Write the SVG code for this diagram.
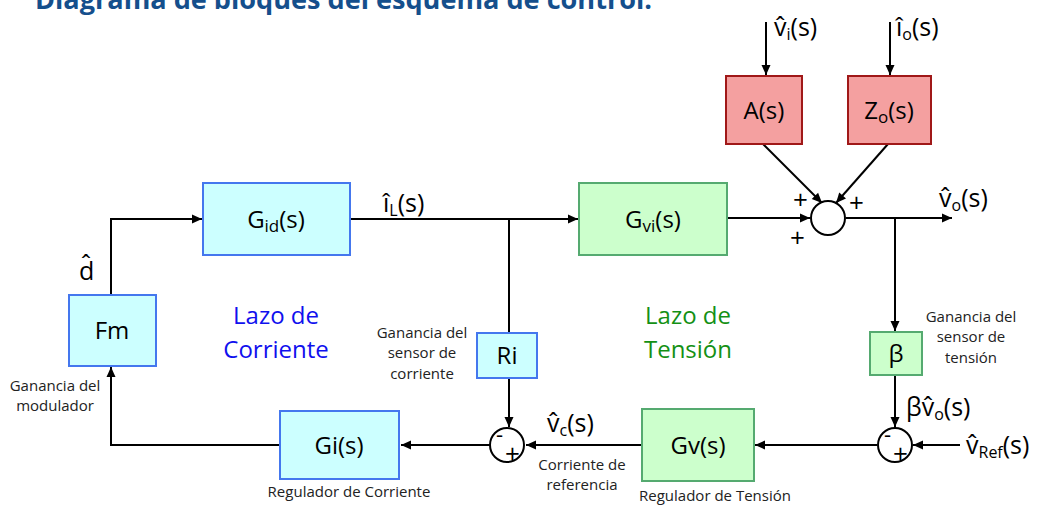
<svg xmlns="http://www.w3.org/2000/svg" width="1039" height="506" viewBox="0 0 1039 506">
<style>
.t{font-family:"Open Sans","Liberation Sans",sans-serif;fill:#000}
.box{font-size:24px}
.small{font-size:15px;fill:#222}
.lbl{font-size:25px}
.cb{fill:#ccffff;stroke:#4477ee;stroke-width:2}
.gb{fill:#ccffcc;stroke:#55aa70;stroke-width:2}
.rb{fill:#f4a0a0;stroke:#a01818;stroke-width:2}
.ln{fill:none;stroke:#000;stroke-width:2}
.sum{fill:#fff;stroke:#000;stroke-width:2}
.pm{font-size:26px}
</style>
<defs>
<marker id="ar" markerUnits="userSpaceOnUse" markerWidth="12" markerHeight="12" viewBox="0 0 12 12" refX="11" refY="6" orient="auto">
<path d="M1,1.5 L11,6 L1,10.5 Z" fill="#000"/>
</marker>
</defs>
<rect width="1039" height="506" fill="#fff"/>
<text x="35" y="9" class="t" font-size="26" font-weight="bold" style="fill:#154f8c" textLength="617" lengthAdjust="spacingAndGlyphs">Diagrama de bloques del esquema de control.</text>

<g id="connectors">
<path class="ln" d="M111,294 V219 H202" marker-end="url(#ar)"/>
<path class="ln" d="M350,219 H578" marker-end="url(#ar)"/>
<path class="ln" d="M509,219 V333"/>
<path class="ln" d="M509,378 V427" marker-end="url(#ar)"/>
<path class="ln" d="M727,218 H810" marker-end="url(#ar)"/>
<path class="ln" d="M766,22 V75" marker-end="url(#ar)"/>
<path class="ln" d="M890,22 V75" marker-end="url(#ar)"/>
<path class="ln" d="M763,144 L822,203" marker-end="url(#ar)"/>
<path class="ln" d="M888,144 L836,203" marker-end="url(#ar)"/>
<path class="ln" d="M846,218 H952" marker-end="url(#ar)"/>
<path class="ln" d="M895,218 V331" marker-end="url(#ar)"/>
<path class="ln" d="M895,374 V427" marker-end="url(#ar)"/>
<path class="ln" d="M960,445 H913" marker-end="url(#ar)"/>
<path class="ln" d="M877,445 H755" marker-end="url(#ar)"/>
<path class="ln" d="M642,445 H526" marker-end="url(#ar)"/>
<path class="ln" d="M490,445 H401" marker-end="url(#ar)"/>
<path class="ln" d="M280,445 H111 V367" marker-end="url(#ar)"/>
</g>

<g id="Gid"><rect class="cb" x="203" y="183" width="147" height="72"/>
<text class="t box" x="276" y="228" text-anchor="middle">G<tspan font-size="17" dy="4">id</tspan><tspan dy="-4">(s)</tspan></text></g>

<g id="Gvi"><rect class="gb" x="579" y="183" width="148" height="72"/>
<text class="t box" x="653" y="228" text-anchor="middle">G<tspan font-size="17" dy="4">vi</tspan><tspan dy="-4">(s)</tspan></text></g>

<g id="Fm"><rect class="cb" x="69" y="295" width="87" height="71"/>
<text class="t box" x="112" y="339" text-anchor="middle">Fm</text></g>

<g id="As"><rect class="rb" x="726" y="76" width="76" height="68"/>
<text class="t box" x="764" y="119" text-anchor="middle">A(s)</text></g>

<g id="Zo"><rect class="rb" x="848" y="76" width="83" height="68"/>
<text class="t box" x="889" y="119" text-anchor="middle">Z<tspan font-size="17" dy="4">o</tspan><tspan dy="-4">(s)</tspan></text></g>

<g id="sum_out"><circle class="sum" cx="828" cy="218" r="17"/>
<text class="t pm" x="793" y="209">+</text>
<text class="t pm" x="849" y="212">+</text>
<text class="t pm" x="790" y="247">+</text></g>

<g id="beta"><rect class="gb" x="870" y="332" width="52" height="43"/>
<text class="t box" x="896" y="362" text-anchor="middle">β</text></g>

<g id="sum_v"><circle class="sum" cx="895" cy="445" r="17"/>
<text class="t" font-size="22" x="884" y="442">-</text>
<text class="t pm" x="893" y="463">+</text></g>

<g id="Gv"><rect class="gb" x="642" y="409" width="112" height="72"/>
<text class="t box" x="698" y="454" text-anchor="middle">Gv(s)</text></g>

<g id="Ri"><rect class="cb" x="477" y="333" width="60" height="45"/>
<text class="t box" x="507" y="364" text-anchor="middle">Ri</text></g>

<g id="sum_i"><circle class="sum" cx="507" cy="445" r="17"/>
<text class="t" font-size="22" x="496" y="442">-</text>
<text class="t pm" x="505" y="463">+</text></g>

<g id="Gi"><rect class="cb" x="280" y="411" width="119" height="68"/>
<text class="t box" x="339" y="454" text-anchor="middle">Gi(s)</text></g>

<g id="labels">
<text class="t lbl" x="774" y="36">v̂<tspan font-size="16" dy="4">i</tspan><tspan dy="-4">(s)</tspan></text>
<text class="t lbl" x="896" y="36">î<tspan font-size="16" dy="4">o</tspan><tspan dy="-4">(s)</tspan></text>
<text class="t lbl" x="939" y="207">v̂<tspan font-size="16" dy="4">o</tspan><tspan dy="-4">(s)</tspan></text>
<text class="t lbl" x="383" y="212">î<tspan font-size="16" dy="4">L</tspan><tspan dy="-4">(s)</tspan></text>
<text class="t lbl" x="79" y="280">d̂</text>
<text class="t lbl" x="906" y="416">βv̂<tspan font-size="16" dy="4">o</tspan><tspan dy="-4">(s)</tspan></text>
<text class="t lbl" x="966" y="454">v̂<tspan font-size="16" dy="4">Ref</tspan><tspan dy="-4">(s)</tspan></text>
<text class="t lbl" x="547" y="432">v̂<tspan font-size="16" dy="4">c</tspan><tspan dy="-4">(s)</tspan></text>
<text class="t small" text-anchor="middle"><tspan x="971" y="322">Ganancia del</tspan><tspan x="971" y="342">sensor de</tspan><tspan x="971" y="363">tensión</tspan></text>
<text class="t small" text-anchor="middle"><tspan x="422" y="338">Ganancia del</tspan><tspan x="422" y="358">sensor de</tspan><tspan x="422" y="379">corriente</tspan></text>
<text class="t small" text-anchor="middle"><tspan x="582" y="470">Corriente de</tspan><tspan x="582" y="490">referencia</tspan></text>
<text class="t small" text-anchor="middle" x="715" y="501">Regulador de Tensión</text>
<text class="t small" text-anchor="middle" x="349" y="497">Regulador de Corriente</text>
<text class="t small" text-anchor="middle"><tspan x="55" y="391">Ganancia del</tspan><tspan x="55" y="411">modulador</tspan></text>
<text class="t" font-size="24" style="fill:#1010ee" text-anchor="middle"><tspan x="276" y="324">Lazo de</tspan><tspan x="276" y="358">Corriente</tspan></text>
<text class="t" font-size="24" style="fill:#149014" text-anchor="middle"><tspan x="688" y="324">Lazo de</tspan><tspan x="688" y="358">Tensión</tspan></text>
</g>
</svg>
